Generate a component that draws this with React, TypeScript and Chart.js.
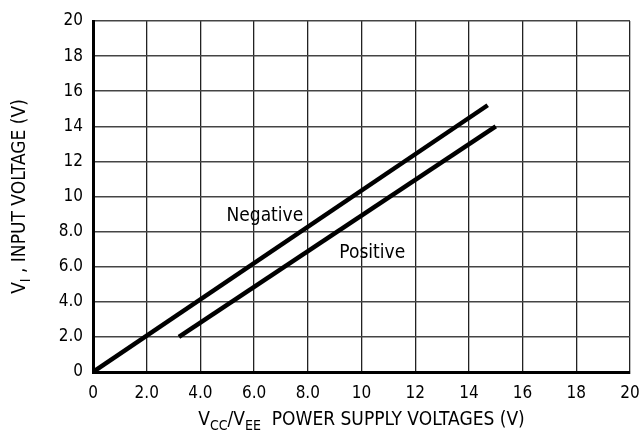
import React, { useEffect, useRef } from "react";
import { Chart, registerables } from "chart.js";

Chart.register(...registerables);

const negativeX = [0, 14.7];
const negativeY = [0, 15.2];
const positiveX = [3.2, 15.0];
const positiveY = [2.0, 14.0];

const seriesLabels = ["Negative", "Positive"];
const labelX = [6.4, 10.4];
const labelY = [8.9, 6.8];

const FONT = "'Liberation Sans Narrow', 'DejaVu Sans Condensed', Arial, sans-serif";

const fmt = (v: number) => (v === 0 ? "0" : v < 10 ? v.toFixed(1) : String(v));

function drawParts(ctx: CanvasRenderingContext2D, parts: { t: string; sub?: boolean }[], x: number, y: number, size: number) {
  let total = 0;
  for (const p of parts) {
    ctx.font = `${p.sub ? Math.round(size * 0.72) : size}px ${FONT}`;
    total += ctx.measureText(p.t).width;
  }
  let cx = x - total / 2;
  ctx.textAlign = "left";
  ctx.textBaseline = "alphabetic";
  for (const p of parts) {
    ctx.font = `${p.sub ? Math.round(size * 0.72) : size}px ${FONT}`;
    ctx.fillText(p.t, cx, p.sub ? y + size * 0.25 : y);
    cx += ctx.measureText(p.t).width;
  }
}

const textPlugin = {
  id: "textPlugin",
  afterDraw(chart: any) {
    const { ctx, chartArea, scales } = chart;
    ctx.save();
    ctx.fillStyle = "#000";
    for (let i = 0; i < seriesLabels.length; i++) {
      ctx.font = `19px ${FONT}`;
      ctx.textAlign = "center";
      ctx.textBaseline = "middle";
      ctx.fillText(seriesLabels[i], scales.x.getPixelForValue(labelX[i]), scales.y.getPixelForValue(labelY[i]));
    }
    const xMid = (chartArea.left + chartArea.right) / 2;
    drawParts(
      ctx,
      [
        { t: "V" },
        { t: "CC", sub: true },
        { t: "/V" },
        { t: "EE", sub: true },
        { t: "  POWER SUPPLY VOLTAGES (V)" },
      ],
      xMid,
      425,
      19
    );
    ctx.save();
    ctx.translate(25, (chartArea.top + chartArea.bottom) / 2);
    ctx.rotate(-Math.PI / 2);
    drawParts(ctx, [{ t: "V" }, { t: "I", sub: true }, { t: " , INPUT VOLTAGE (V)" }], 0, 0, 19);
    ctx.restore();
    ctx.restore();
  },
};

export default function App() {
  const ref = useRef<HTMLCanvasElement>(null);
  useEffect(() => {
    if (!ref.current) return;
    const chart = new Chart(ref.current, {
      type: "scatter",
      data: {
        datasets: [
          {
            label: seriesLabels[0],
            data: negativeX.map((x, i) => ({ x, y: negativeY[i] })),
            showLine: true,
            borderColor: "#000",
            borderWidth: 4.5,
            pointRadius: 0,
            borderCapStyle: "butt",
          },
          {
            label: seriesLabels[1],
            data: positiveX.map((x, i) => ({ x, y: positiveY[i] })),
            showLine: true,
            borderColor: "#000",
            borderWidth: 4.5,
            pointRadius: 0,
            borderCapStyle: "butt",
          },
        ],
      },
      options: {
        animation: false,
        responsive: false,
        layout: { padding: { top: 21, right: 11, left: 0, bottom: 0 } },
        plugins: { legend: { display: false }, tooltip: { enabled: false } },
        scales: {
          x: {
            type: "linear",
            min: 0,
            max: 20,
            afterFit: (s: any) => {
              s.height = 62;
              s.paddingLeft = 0;
              s.paddingRight = 0;
            },
            ticks: {
              stepSize: 2,
              color: "#000",
              font: { family: FONT, size: 17 },
              padding: 11,
              maxRotation: 0,
              callback: (v: any) => fmt(Number(v)),
            },
            grid: { color: "#222", lineWidth: 1.3, drawTicks: false },
            border: { color: "#000", width: 3 },
          },
          y: {
            type: "linear",
            min: 0,
            max: 20,
            afterFit: (s: any) => {
              s.width = 93;
              s.paddingTop = 0;
              s.paddingBottom = 0;
            },
            ticks: {
              stepSize: 2,
              color: "#000",
              font: { family: FONT, size: 17 },
              padding: 10,
              callback: (v: any) => fmt(Number(v)),
            },
            grid: { color: "#444", lineWidth: 1.5, drawTicks: false },
            border: { color: "#000", width: 3 },
          },
        },
      },
      plugins: [textPlugin],
    } as any);
    return () => chart.destroy();
  }, []);
  return (
    <div style={{ position: "fixed", left: 0, top: 0, width: 641, height: 434, background: "#fff" }}>
      <canvas ref={ref} width={641} height={434} style={{ display: "block" }} />
    </div>
  );
}
